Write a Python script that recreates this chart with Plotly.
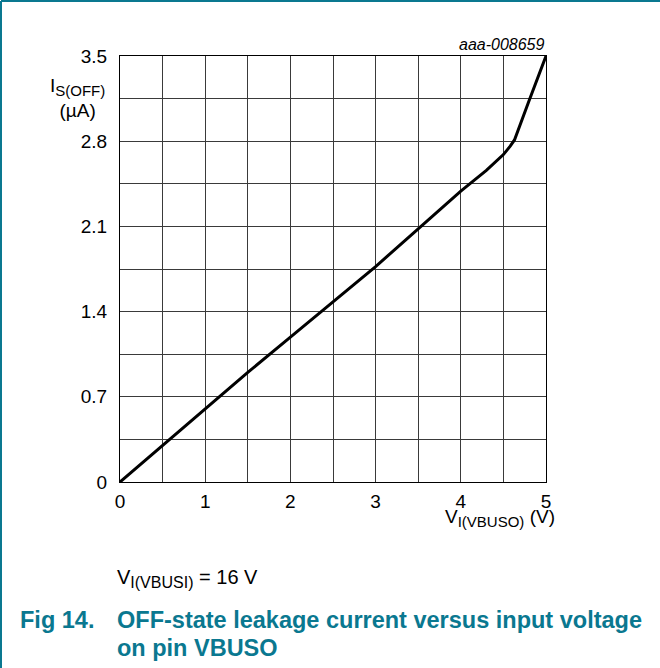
import plotly.graph_objects as go

# Data
v_in = [0, 0.5, 1.0, 1.5, 2.0, 2.5, 3.0, 3.5, 4.0, 4.3, 4.5, 4.58, 4.63, 4.8, 5.0]
i_off = [0, 0.30, 0.60, 0.90, 1.19, 1.48, 1.77, 2.08, 2.39, 2.56, 2.69, 2.76, 2.81, 3.13, 3.5]
x_ticks = [0, 1, 2, 3, 4, 5]
y_ticks = [0, 0.7, 1.4, 2.1, 2.8, 3.5]
y_tick_text = ["0", "0.7", "1.4", "2.1", "2.8", "3.5"]

W, H = 660, 668
L, R, T, B = 120, 114, 56, 186
PW = W - L - R
PH = H - T - B

def px(x):
    return (x - L) / PW

def py(y):
    return (H - B - y) / PH

teal = "#0a7890"
font = "Liberation Sans, Arial, sans-serif"

def sub(s, size=15):
    return '<sub><span style="font-size:%dpx">%s</span></sub>' % (size, s)

fig = go.Figure()
fig.add_trace(go.Scatter(x=v_in, y=i_off, mode="lines",
                         line=dict(color="black", width=3), showlegend=False,
                         hoverinfo="skip"))

grid_col = "#3a3a3a"
fig.update_xaxes(range=[0, 5], tickvals=x_ticks, ticktext=[str(v) for v in x_ticks],
                 showgrid=True, gridcolor=grid_col, gridwidth=1,
                 minor=dict(dtick=0.5, tick0=0, showgrid=True, gridcolor=grid_col, gridwidth=1),
                 showline=True, linecolor="black", linewidth=1, mirror=True,
                 zeroline=False, ticks="", ticklabelstandoff=2,
                 tickfont=dict(family=font, size=19, color="black"), fixedrange=True)
fig.update_yaxes(range=[0, 3.5], tickvals=y_ticks, ticktext=y_tick_text,
                 showgrid=True, gridcolor=grid_col, gridwidth=1,
                 minor=dict(dtick=0.35, tick0=0, showgrid=True, gridcolor=grid_col, gridwidth=1),
                 showline=True, linecolor="black", linewidth=1, mirror=True,
                 zeroline=False, ticks="", ticklabelstandoff=8,
                 tickfont=dict(family=font, size=19, color="black"), fixedrange=True)

ann = []
ann.append(dict(text="<i>aaa-008659</i>", xref="paper", yref="paper",
                x=px(547), y=py(44), xanchor="right", yanchor="middle", showarrow=False,
                font=dict(family=font, size=16, color="black")))
ann.append(dict(text="I" + sub("S(OFF)") + "<br>(µA)", xref="paper", yref="paper",
                x=px(77), y=py(98), xanchor="center", yanchor="middle", showarrow=False,
                font=dict(family=font, size=19, color="black")))
ann.append(dict(text="V" + sub("I(VBUSO)") + " (V)", xref="paper", yref="paper",
                x=px(557), y=py(518), xanchor="right", yanchor="middle", showarrow=False,
                font=dict(family=font, size=19, color="black")))
ann.append(dict(text="V" + sub("I(VBUSI)", 16) + " = 16 V", xref="paper", yref="paper",
                x=px(115), y=py(578), xanchor="left", yanchor="middle", showarrow=False,
                font=dict(family=font, size=20, color="black")))
ann.append(dict(text="<b>Fig 14.</b>", xref="paper", yref="paper",
                x=px(18), y=py(620), xanchor="left", yanchor="middle", showarrow=False,
                font=dict(family=font, size=23.5, color=teal)))
ann.append(dict(text="<b>OFF-state leakage current versus input voltage</b>", xref="paper", yref="paper",
                x=px(115), y=py(620), xanchor="left", yanchor="middle", showarrow=False,
                font=dict(family=font, size=23.5, color=teal)))
ann.append(dict(text="<b>on pin VBUSO</b>", xref="paper", yref="paper",
                x=px(115), y=py(648), xanchor="left", yanchor="middle", showarrow=False,
                font=dict(family=font, size=23.5, color=teal)))

shapes = [
    dict(type="line", xref="paper", yref="paper", x0=px(1), x1=px(660), y0=py(1), y1=py(1),
         line=dict(color=teal, width=2)),
    dict(type="line", xref="paper", yref="paper", x0=px(1), x1=px(1), y0=py(1), y1=py(668),
         line=dict(color=teal, width=2)),
]

fig.update_layout(width=W, height=H, margin=dict(l=L, r=R, t=T, b=B),
                  paper_bgcolor="white", plot_bgcolor="white",
                  annotations=ann, shapes=shapes, showlegend=False,
                  font=dict(family=font))

fig.write_html("out.html", config={"displayModeBar": False},
               post_script="document.body.style.margin='0';document.body.style.overflow='hidden';")
